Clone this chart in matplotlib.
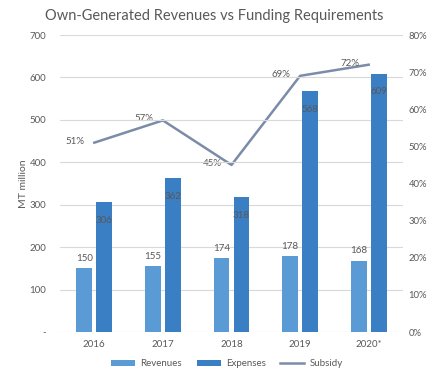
import matplotlib
matplotlib.use("Agg")
import matplotlib.pyplot as plt
import numpy as np
from matplotlib.ticker import FuncFormatter, PercentFormatter

plt.rcParams['font.family'] = ['Lato', 'DejaVu Sans']

years = ["2016", "2017", "2018", "2019", "2020*"]
revenues = [150, 155, 174, 178, 168]
expenses = [306, 362, 318, 568, 609]
subsidy = [51, 57, 45, 69, 72]

c_rev = "#5B9BD5"
c_exp = "#3A7EC4"
c_sub = "#7A8CA8"
c_txt = "#595959"
c_grid = "#D9D9D9"

fig = plt.figure(figsize=(4.28, 3.71), dpi=100)
ax = fig.add_axes([60/428, 1 - 332/371, 343/428, 297/371])
ax2 = ax.twinx()
ax.set_zorder(ax2.get_zorder() + 1)
ax.patch.set_visible(False)

x = np.arange(len(years))
w = 0.23
gap = 0.03
ax.bar(x - w/2 - gap, revenues, w, color=c_rev, label="Revenues", zorder=3)
ax.bar(x + w/2 + gap, expenses, w, color=c_exp, label="Expenses", zorder=3)

for xi, v in zip(x - w/2 - gap, revenues):
    ax.annotate(f"{v}", (xi, v), xytext=(0, 4), textcoords="offset points",
                ha="center", va="bottom", fontsize=7, color=c_txt)
for xi, v in zip(x + w/2 + gap, expenses):
    ax.annotate(f"{v}", (xi, v), xytext=(0, -10), textcoords="offset points",
                ha="center", va="top", fontsize=7, color=c_txt, zorder=4)

ax.set_ylim(0, 700)
ax.set_yticks(range(0, 701, 100))
ax.yaxis.set_major_formatter(FuncFormatter(lambda v, p: "-" if v == 0 else f"{int(v)}"))
ax.set_xlim(-0.5, len(years) - 0.5)
ax.set_xticks(x)
ax.set_xticklabels(years)
ax.grid(axis="y", color=c_grid, linewidth=0.8, zorder=0)
ax.set_ylabel("MT million", fontsize=7.5, color=c_txt, labelpad=1)

ax2.plot(x, subsidy, color=c_sub, linewidth=1.8, label="Subsidy")
ax2.set_ylim(0, 80)
ax2.set_yticks(range(0, 81, 10))
ax2.yaxis.set_major_formatter(PercentFormatter(decimals=0))
for xi, v in zip(x, subsidy):
    ax2.annotate(f"{v}%", (xi, v), xytext=(-7, 1), textcoords="offset points",
                 ha="right", va="center", fontsize=7, color=c_txt)

for a in (ax, ax2):
    for s in a.spines.values():
        s.set_visible(False)
    a.tick_params(length=0, labelsize=7, colors=c_txt)
ax.tick_params(axis="y", pad=10)
ax.tick_params(axis="x", pad=6)
ax2.tick_params(axis="y", pad=4, labelsize=6.8)

fig.suptitle("Own-Generated Revenues vs Funding Requirements", x=0.5, y=0.975,
             fontsize=10.5, color=c_txt)

h1, l1 = ax.get_legend_handles_labels()
h2, l2 = ax2.get_legend_handles_labels()
fig.legend(h1 + h2, l1 + l2, loc="center", bbox_to_anchor=(0.53, 1 - 364/371),
           ncol=3, frameon=False, fontsize=7, labelcolor=c_txt,
           handlelength=2.5, handleheight=0.6, columnspacing=1.5, handletextpad=0.5)

fig.savefig("out.png", dpi=100)
